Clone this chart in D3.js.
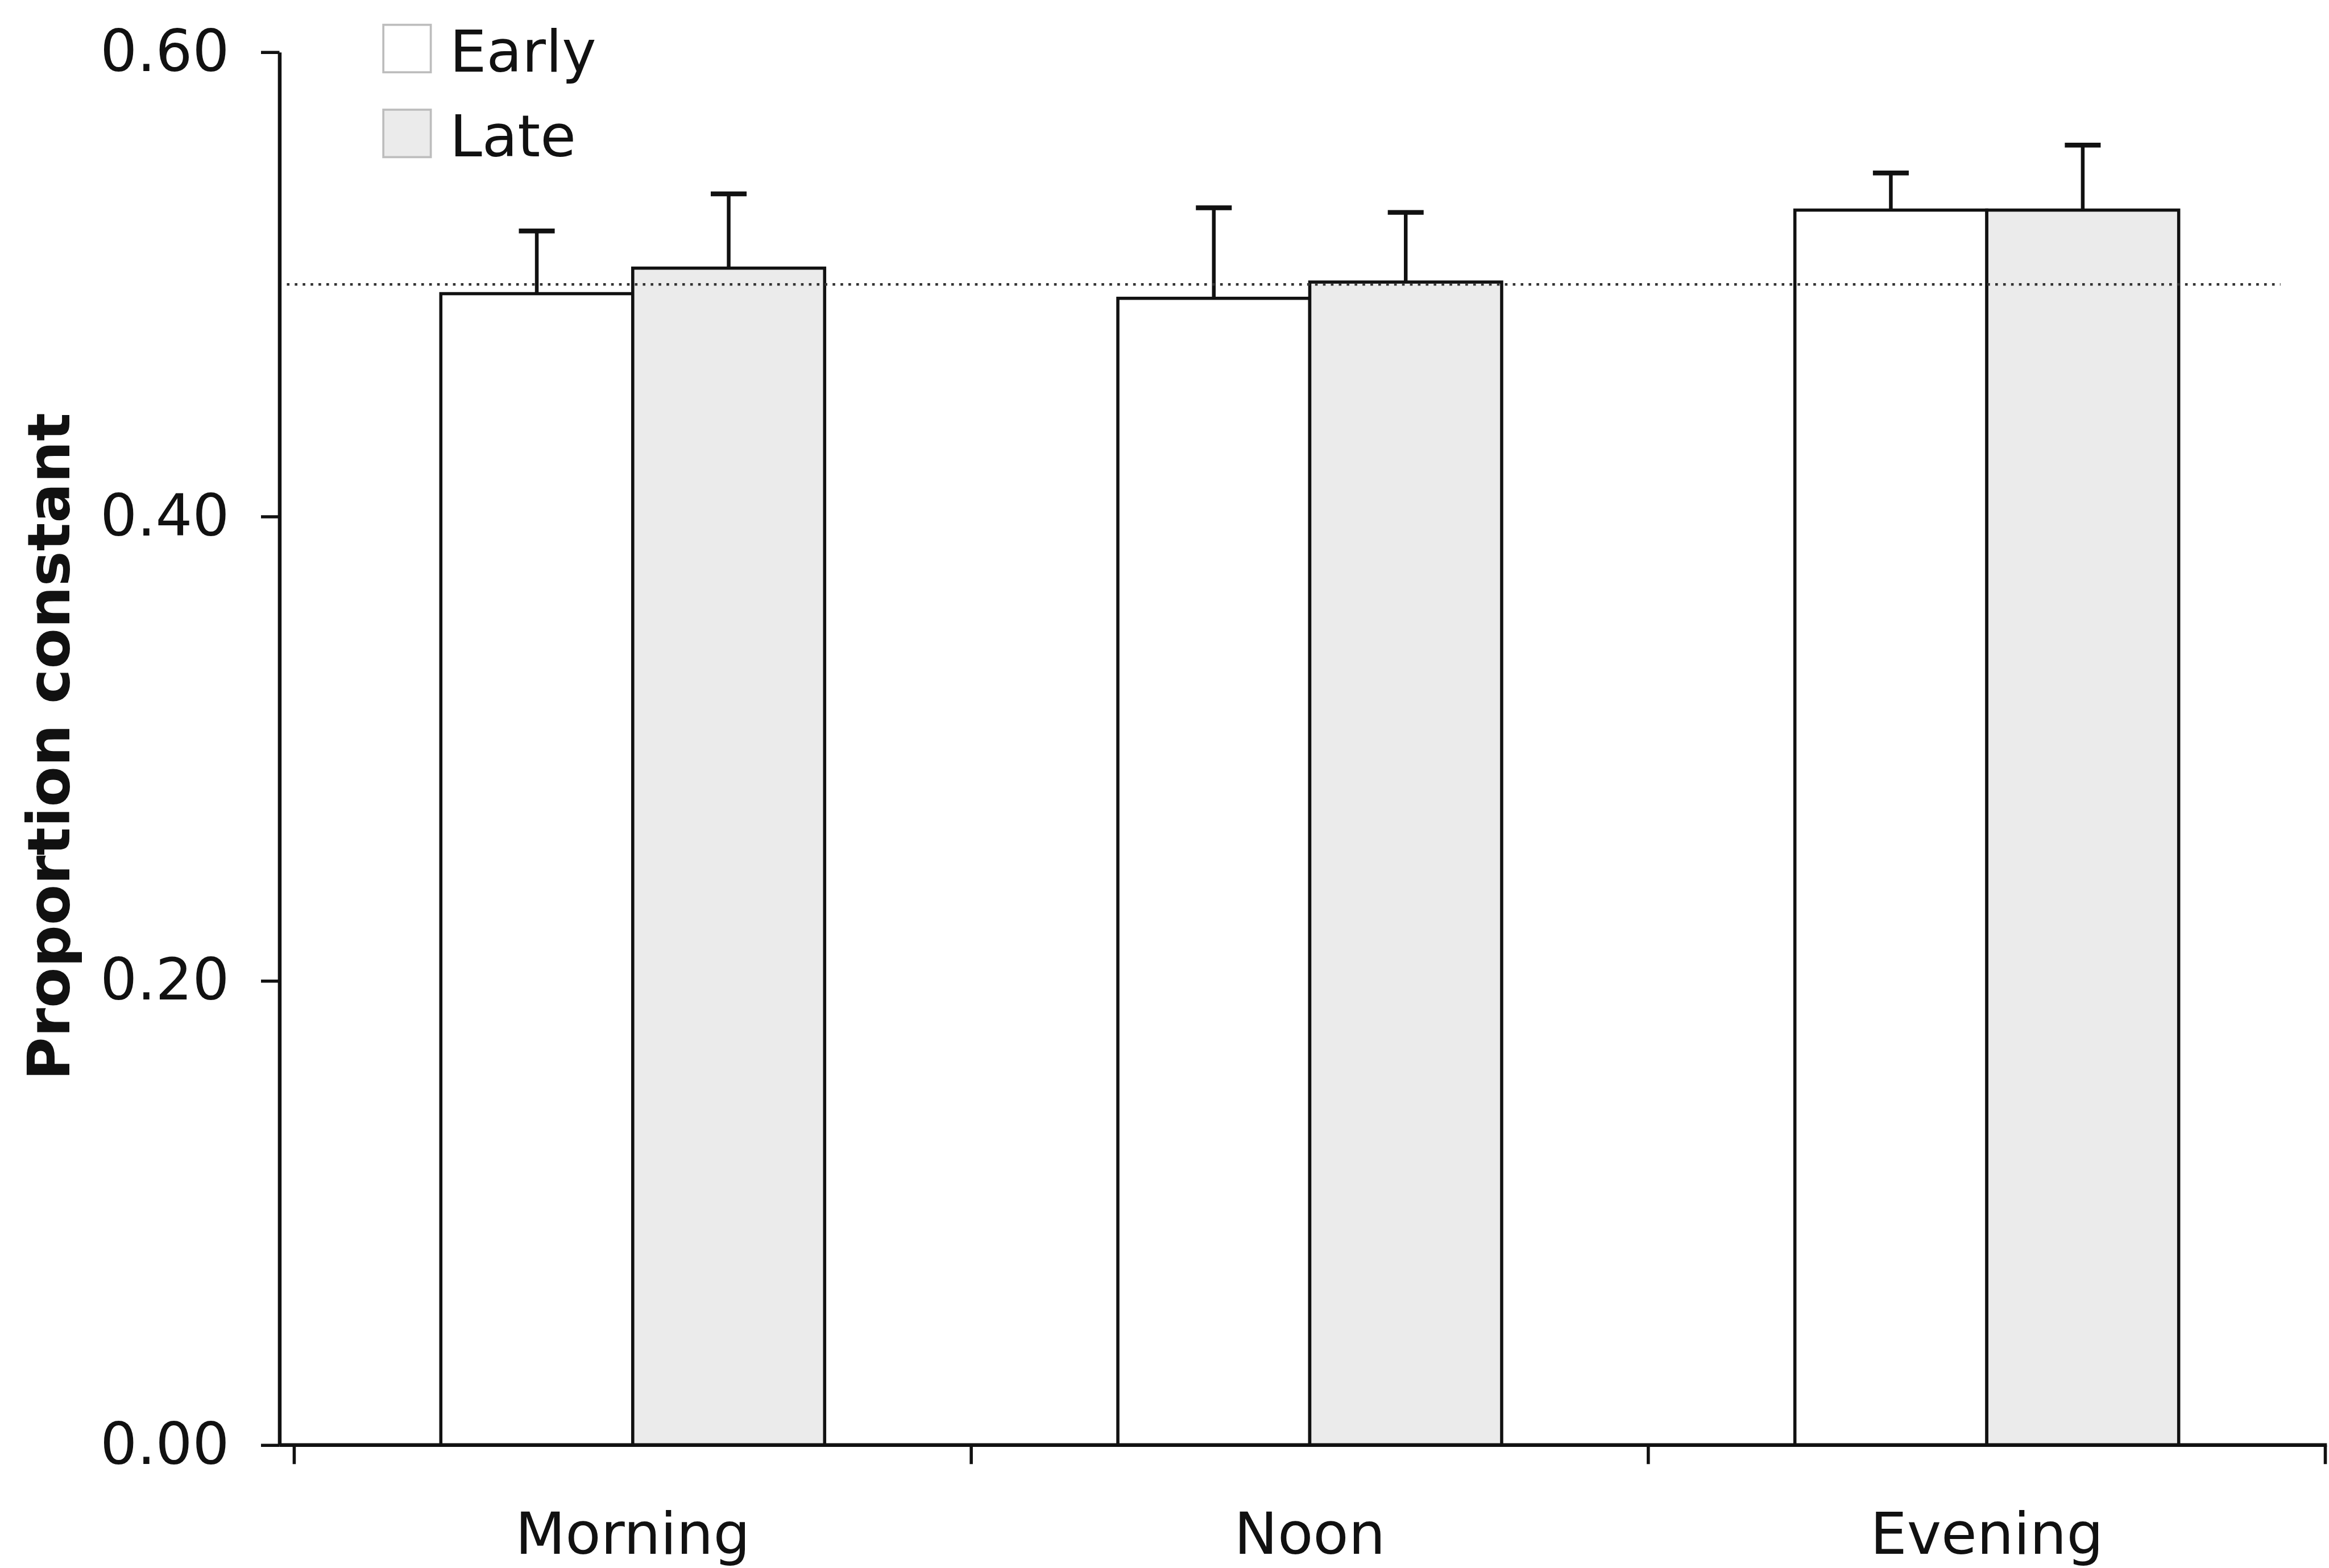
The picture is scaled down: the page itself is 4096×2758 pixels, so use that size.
<!DOCTYPE html>
<html>
<head>
<meta charset="utf-8">
<script src="https://cdn.jsdelivr.net/npm/d3@7"></script>
<style>
  html, body { margin: 0; padding: 0; background: #ffffff; }
  svg { display: block; }
  text { font-family: "DejaVu Sans", Verdana, sans-serif; fill: #111; }
</style>
</head>
<body>
<script>
// Proportion of constant responses by time of day, early vs late
const categories = ["Morning", "Noon", "Evening"];
const series = ["Early", "Late"];
const earlyValues = [0.496, 0.494, 0.532];
const lateValues = [0.507, 0.501, 0.532];
const earlyErrors = [0.027, 0.039, 0.016];
const lateErrors = [0.032, 0.030, 0.028];
const yTicks = [0.00, 0.20, 0.40, 0.60];
const referenceLevel = 0.50;
const yTitle = "Proportion constant";

const seriesValues = { Early: earlyValues, Late: lateValues };
const seriesErrors = { Early: earlyErrors, Late: lateErrors };
const seriesFill = { Early: "#ffffff", Late: "#ebebeb" };

// drawing laid out on a 4417 x 2974 canvas, shown at 4096 x 2758
const W = 4417, H = 2974;
const svg = d3.select("body").append("svg")
  .attr("width", 4096).attr("height", 2758)
  .attr("viewBox", `0 0 ${W} ${H}`);

const axisX = 530, axisY = 2741, topY = 99;
const bandLeft = 558, bandRight = 4410;

const y = d3.scaleLinear().domain([0, 0.6]).range([axisY, topY]);
const x0 = d3.scaleBand().domain(categories).range([bandLeft, bandRight]).padding(0);
const x1 = d3.scaleBand().domain(series).range([0, x0.bandwidth()])
  .paddingInner(0).paddingOuter(0.764);

const rows = categories.map((c, i) => ({
  category: c,
  items: series.map(s => ({ series: s, value: seriesValues[s][i], err: seriesErrors[s][i] }))
}));

// bars
const groups = svg.append("g").selectAll("g").data(rows).join("g")
  .attr("transform", d => `translate(${x0(d.category)},0)`);

groups.selectAll("rect").data(d => d.items).join("rect")
  .attr("x", d => x1(d.series))
  .attr("y", d => y(d.value))
  .attr("width", x1.bandwidth())
  .attr("height", d => y(0) - y(d.value))
  .attr("fill", d => seriesFill[d.series])
  .attr("stroke", "#111")
  .attr("stroke-width", 6);

// one-sided error bars
const eb = groups.selectAll("g.err").data(d => d.items).join("g").attr("class", "err");
eb.append("line")
  .attr("x1", d => x1(d.series) + x1.bandwidth() / 2)
  .attr("x2", d => x1(d.series) + x1.bandwidth() / 2)
  .attr("y1", d => y(d.value))
  .attr("y2", d => y(d.value + d.err))
  .attr("stroke", "#111").attr("stroke-width", 7);
eb.append("line")
  .attr("x1", d => x1(d.series) + x1.bandwidth() / 2 - 34)
  .attr("x2", d => x1(d.series) + x1.bandwidth() / 2 + 34)
  .attr("y1", d => y(d.value + d.err))
  .attr("y2", d => y(d.value + d.err))
  .attr("stroke", "#111").attr("stroke-width", 9);

// dotted reference line at 0.50
svg.append("line")
  .attr("x1", axisX + 14).attr("x2", 4325)
  .attr("y1", y(referenceLevel)).attr("y2", y(referenceLevel))
  .attr("stroke", "#333").attr("stroke-width", 5)
  .attr("stroke-dasharray", "5 10");

// y axis
const yAxis = d3.axisLeft(y).tickValues(yTicks).tickFormat(d3.format(".2f"))
  .tickSize(35).tickSizeOuter(0).tickPadding(60);
const gy = svg.append("g").attr("transform", `translate(${axisX},0)`).call(yAxis);
gy.select(".domain").attr("stroke", "#111").attr("stroke-width", 7);
gy.selectAll(".tick line").attr("stroke", "#111").attr("stroke-width", 6);
gy.selectAll(".tick text").attr("font-size", 110).attr("fill", "#1a1a1a")
  .attr("font-family", "DejaVu Sans, Verdana, sans-serif");

// x axis
svg.append("line")
  .attr("x1", axisX).attr("x2", bandRight + 3)
  .attr("y1", axisY).attr("y2", axisY)
  .attr("stroke", "#111").attr("stroke-width", 7);
const xAxis = d3.axisBottom(x0).tickSize(0).tickPadding(128).tickSizeOuter(0);
const gx = svg.append("g").attr("transform", `translate(0,${axisY})`).call(xAxis);
gx.select(".domain").remove();
gx.selectAll(".tick text").attr("font-size", 110).attr("fill", "#1a1a1a")
  .attr("font-family", "DejaVu Sans, Verdana, sans-serif");
// category boundary ticks
svg.append("g").selectAll("line")
  .data(categories.map(c => x0(c)).concat([x0.range()[1]]))
  .join("line")
  .attr("x1", d => d).attr("x2", d => d)
  .attr("y1", axisY).attr("y2", axisY + 36)
  .attr("stroke", "#111").attr("stroke-width", 6);

// y axis title
svg.append("text")
  .attr("transform", `translate(132,1416) rotate(-90)`)
  .attr("text-anchor", "middle")
  .attr("font-size", 112)
  .attr("font-weight", "bold")
  .text(yTitle);

// legend
const legend = svg.append("g").selectAll("g").data(series).join("g")
  .attr("transform", (d, i) => `translate(727,${47 + i * 161})`);
legend.append("rect")
  .attr("width", 90).attr("height", 90)
  .attr("fill", d => seriesFill[d])
  .attr("stroke", "#bdbdbd").attr("stroke-width", 4);
legend.append("text")
  .attr("x", 126).attr("y", 89)
  .attr("font-size", 110)
  .text(d => d);
</script>
</body>
</html>
